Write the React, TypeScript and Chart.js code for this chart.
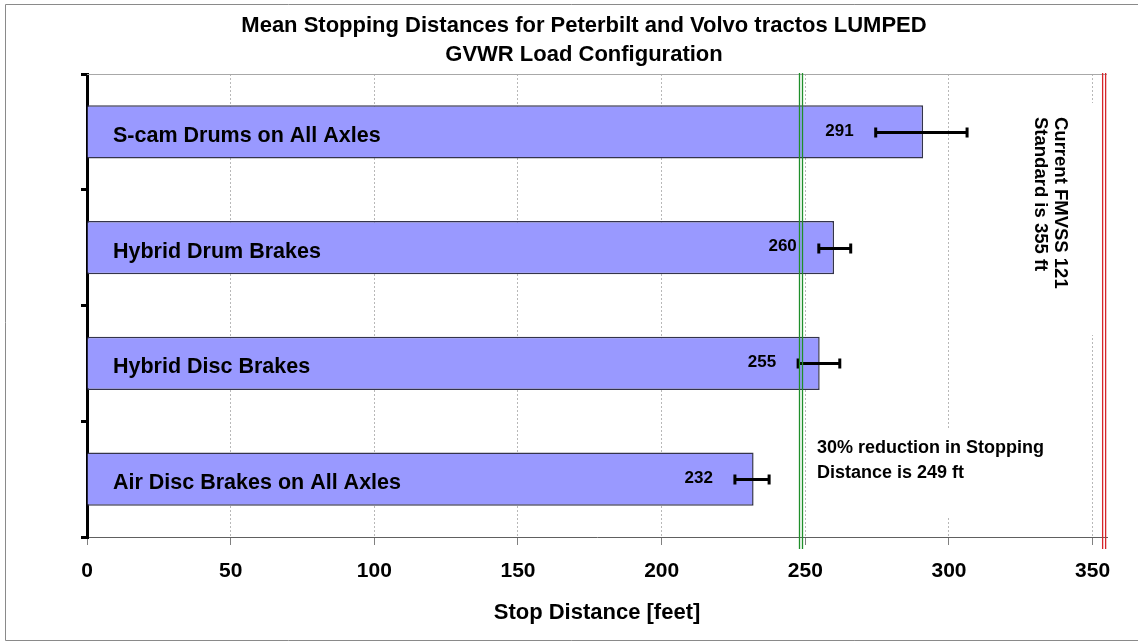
import React, { useEffect, useRef } from "react";
import { Chart, registerables } from "chart.js";

Chart.register(...registerables);

const FONT = "'Liberation Sans', Arial, Helvetica, sans-serif";

// ---- data ----
const titleLines = [
  "Mean Stopping Distances for Peterbilt and Volvo tractos LUMPED",
  "GVWR Load Configuration",
];
const categories = [
  "S-cam Drums on All Axles",
  "Hybrid Drum Brakes",
  "Hybrid Disc Brakes",
  "Air Disc Brakes on All Axles",
];
const meanStop = [291, 260, 255, 232];
const errLow = [274.5, 254.7, 247.5, 225.5];
const errHigh = [306.3, 265.8, 262.0, 237.4];
const xMin = 0;
const xMax = 355;
const xTickValues = [0, 50, 100, 150, 200, 250, 300, 350];
const reductionValue = 248.5;
const standardValue = 354;
const reductionNote = ["30% reduction in Stopping", "Distance is 249 ft"];
const standardNote = ["Current FMVSS 121", "Standard is 355 ft"];
const xAxisTitle = "Stop Distance [feet]";

const decorPlugin = {
  id: "decor",
  beforeDatasetsDraw(chart: any) {
    const { ctx, chartArea: a } = chart;
    ctx.save();
    // white backgrounds behind the notes (hide grid lines)
    ctx.fillStyle = "#ffffff";
    ctx.fillRect(1022, 103, 76, 232);
    ctx.fillRect(810, 428, 240, 90);
    // top frame line of plot area
    ctx.strokeStyle = "#a8a8a8";
    ctx.lineWidth = 1;
    ctx.beginPath();
    ctx.moveTo(a.left, a.top + 0.5);
    ctx.lineTo(a.right, a.top + 0.5);
    ctx.stroke();
    ctx.restore();
  },
  afterDatasetsDraw(chart: any) {
    const { ctx, chartArea: a } = chart;
    const xs = chart.scales.x;
    const meta = chart.getDatasetMeta(0);
    ctx.save();

    // category labels inside bars
    ctx.fillStyle = "#000";
    ctx.font = `bold 21.5px ${FONT}`;
    ctx.textAlign = "left";
    ctx.textBaseline = "middle";
    meta.data.forEach((bar: any, i: number) => {
      ctx.fillText(categories[i], a.left + 26, bar.y + 4);
    });

    // error bars + value labels
    meta.data.forEach((bar: any, i: number) => {
      const x1 = xs.getPixelForValue(errLow[i]);
      const x2 = xs.getPixelForValue(errHigh[i]);
      const y = Math.round(bar.y) + 0.5;
      ctx.strokeStyle = "#000";
      ctx.lineWidth = 3;
      ctx.beginPath();
      ctx.moveTo(x1, y);
      ctx.lineTo(x2, y);
      ctx.moveTo(x1, y - 5);
      ctx.lineTo(x1, y + 5);
      ctx.moveTo(x2, y - 5);
      ctx.lineTo(x2, y + 5);
      ctx.stroke();
      ctx.font = `bold 17px ${FONT}`;
      ctx.textAlign = "right";
      ctx.textBaseline = "middle";
      ctx.fillStyle = "#000";
      ctx.fillText(String(meanStop[i]), x1 - 22, bar.y - 1);
    });

    // reference double lines
    const dbl = (v: number, color: string) => {
      const px = xs.getPixelForValue(v);
      ctx.strokeStyle = color;
      ctx.lineWidth = 1.3;
      ctx.beginPath();
      for (const dx of [-1.5, 1.5]) {
        ctx.moveTo(px + dx, a.top - 1);
        ctx.lineTo(px + dx, a.bottom + 12);
      }
      ctx.stroke();
    };
    dbl(reductionValue, "#1f8f2a");
    dbl(standardValue, "#d6242a");

    // notes
    ctx.fillStyle = "#000";
    ctx.font = `bold 18px ${FONT}`;
    ctx.textAlign = "left";
    ctx.textBaseline = "middle";
    ctx.fillText(reductionNote[0], 817, 448);
    ctx.fillText(reductionNote[1], 817, 473);

    ctx.save();
    ctx.translate(1060, 117);
    ctx.rotate(Math.PI / 2);
    ctx.font = `bold 18.5px ${FONT}`;
    ctx.fillText(standardNote[0], 0, 0);
    ctx.fillText(standardNote[1], 0, 20);
    ctx.restore();

    // title
    ctx.font = `bold 22px ${FONT}`;
    ctx.textAlign = "center";
    ctx.fillText(titleLines[0], 584, 26);
    ctx.fillText(titleLines[1], 584, 55);

    // outer frame
    ctx.strokeStyle = "#8a8a8a";
    ctx.lineWidth = 1;
    ctx.beginPath();
    ctx.moveTo(1138, 4.5);
    ctx.lineTo(5.5, 4.5);
    ctx.lineTo(5.5, 640.5);
    ctx.lineTo(1138, 640.5);
    ctx.stroke();

    ctx.restore();
  },
};

export default function App() {
  const canvasRef = useRef<HTMLCanvasElement | null>(null);

  useEffect(() => {
    const canvas = canvasRef.current;
    if (!canvas) return;
    const chart = new Chart(canvas, {
      type: "bar",
      data: {
        labels: categories,
        datasets: [
          {
            data: meanStop,
            backgroundColor: "#9999ff",
            borderColor: "#34344a",
            borderWidth: 1.5,
            barPercentage: 0.46,
            categoryPercentage: 1,
          },
        ],
      },
      options: {
        indexAxis: "y",
        responsive: false,
        animation: false,
        devicePixelRatio: 1,
        layout: { padding: { top: 74, right: 31, left: 0, bottom: 0 } },
        plugins: {
          legend: { display: false },
          tooltip: { enabled: false },
          title: { display: false },
        },
        scales: {
          x: {
            type: "linear",
            min: xMin,
            max: xMax,
            ticks: {
              color: "#000",
              padding: 14,
              font: { family: FONT, size: 21, weight: "bold" },
            },
            afterBuildTicks: (scale: any) => {
              scale.ticks = xTickValues.map((v) => ({ value: v }));
            },
            afterFit: (scale: any) => {
              scale.height = 106;
            },
            grid: {
              color: "#b8b8b8",
              lineWidth: 1,
              tickLength: 8,
              tickColor: "#808080",
              tickBorderDash: [],
            },
            border: { display: true, color: "#606060", width: 1, dash: [2, 2] },
            title: {
              display: true,
              text: xAxisTitle,
              color: "#000",
              font: { family: FONT, size: 22, weight: "bold" },
              padding: { top: 0, bottom: 17 },
            },
          },
          y: {
            type: "category",
            ticks: { display: false },
            afterFit: (scale: any) => {
              scale.width = 87;
            },
            grid: {
              offset: true,
              drawOnChartArea: false,
              color: "#000",
              lineWidth: 3,
              tickLength: 6,
            },
            border: { display: true, color: "#000", width: 3 },
          },
        },
      } as any,
      plugins: [decorPlugin],
    });
    return () => chart.destroy();
  }, []);

  return (
    <div
      style={{
        position: "absolute",
        left: 0,
        top: 0,
        width: 1138,
        height: 643,
        background: "#fff",
      }}
    >
      <canvas ref={canvasRef} width={1138} height={643} style={{ display: "block" }} />
    </div>
  );
}
